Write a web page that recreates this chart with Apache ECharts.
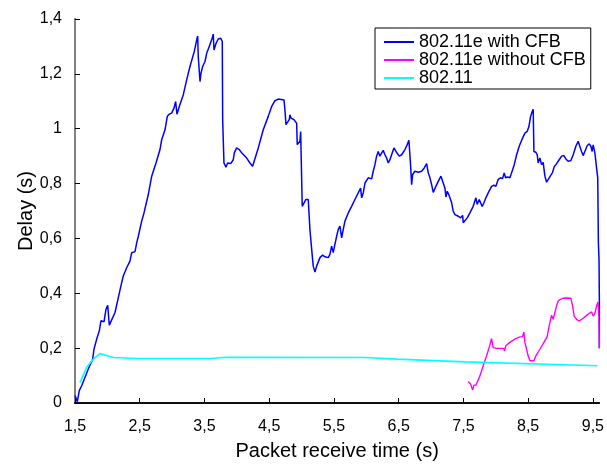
<!DOCTYPE html>
<html>
<head>
<meta charset="utf-8">
<script src="https://cdn.jsdelivr.net/npm/echarts@6/dist/echarts.min.js"></script>
<style>
  html, body { margin: 0; padding: 0; background: #fff; }
  #chart { width: 607px; height: 466px; }
</style>
</head>
<body>
<div id="chart"></div>
<script>
// Packet receive time (s) and measured delay (s) for each scheme.
const seriesNames = ['802.11e with CFB', '802.11e without CFB', '802.11'];

const cfbTime = [1.5, 1.536, 1.566, 1.603, 1.628, 1.654, 1.705, 1.773, 1.793, 1.835, 1.875, 1.902, 1.948, 1.979, 2.005, 2.03, 2.051, 2.118, 2.169, 2.221, 2.246, 2.272, 2.298, 2.349, 2.376, 2.427, 2.453, 2.478, 2.53, 2.566, 2.632, 2.685, 2.751, 2.813, 2.839, 2.89, 2.926, 2.956, 2.993, 3.029, 3.055, 3.075, 3.111, 3.173, 3.225, 3.276, 3.342, 3.38, 3.395, 3.404, 3.431, 3.446, 3.472, 3.508, 3.534, 3.574, 3.611, 3.636, 3.647, 3.678, 3.713, 3.75, 3.775, 3.781, 3.801, 3.832, 3.858, 3.905, 3.945, 3.961, 3.997, 4.037, 4.074, 4.152, 4.203, 4.244, 4.269, 4.331, 4.408, 4.485, 4.538, 4.589, 4.64, 4.728, 4.743, 4.759, 4.785, 4.81, 4.82, 4.836, 4.882, 4.924, 4.933, 4.955, 4.975, 4.986, 4.998, 5.01, 5.037, 5.068, 5.103, 5.129, 5.156, 5.18, 5.207, 5.233, 5.284, 5.325, 5.361, 5.387, 5.412, 5.438, 5.464, 5.489, 5.515, 5.542, 5.567, 5.593, 5.619, 5.644, 5.67, 5.721, 5.773, 5.824, 5.875, 5.912, 5.928, 5.953, 5.979, 6.03, 6.082, 6.107, 6.133, 6.159, 6.184, 6.21, 6.237, 6.261, 6.288, 6.314, 6.339, 6.365, 6.391, 6.427, 6.458, 6.509, 6.546, 6.597, 6.632, 6.658, 6.685, 6.7, 6.716, 6.751, 6.802, 6.854, 6.895, 6.932, 6.957, 6.983, 7.009, 7.034, 7.075, 7.111, 7.153, 7.179, 7.214, 7.23, 7.25, 7.281, 7.318, 7.343, 7.369, 7.395, 7.42, 7.457, 7.488, 7.497, 7.523, 7.559, 7.6, 7.651, 7.693, 7.713, 7.744, 7.79, 7.817, 7.847, 7.883, 7.935, 7.971, 8.002, 8.037, 8.074, 8.105, 8.13, 8.151, 8.182, 8.218, 8.244, 8.285, 8.322, 8.362, 8.403, 8.45, 8.485, 8.512, 8.538, 8.563, 8.578, 8.589, 8.62, 8.64, 8.655, 8.681, 8.708, 8.732, 8.759, 8.785, 8.825, 8.878, 8.902, 8.929, 8.949, 8.98, 9.017, 9.052, 9.083, 9.118, 9.16, 9.196, 9.237, 9.273, 9.299, 9.325, 9.35, 9.376, 9.412, 9.443, 9.469, 9.489, 9.505, 9.531, 9.557, 9.575, 9.585, 9.595, 9.6, 9.6];
const cfbDelay = [0.027, 0.005, 0.045, 0.063, 0.069, 0.093, 0.124, 0.16, 0.196, 0.233, 0.263, 0.3, 0.296, 0.342, 0.356, 0.284, 0.279, 0.33, 0.384, 0.439, 0.463, 0.46, 0.493, 0.517, 0.548, 0.552, 0.584, 0.608, 0.663, 0.693, 0.76, 0.827, 0.875, 0.924, 0.96, 0.996, 1.045, 1.053, 1.057, 1.075, 1.099, 1.053, 1.081, 1.124, 1.178, 1.227, 1.281, 1.324, 1.338, 1.263, 1.172, 1.202, 1.227, 1.245, 1.275, 1.3, 1.324, 1.345, 1.287, 1.311, 1.327, 1.33, 1.318, 1.033, 0.875, 0.86, 0.875, 0.873, 0.887, 0.912, 0.93, 0.924, 0.912, 0.893, 0.875, 0.863, 0.865, 0.93, 0.996, 1.045, 1.081, 1.102, 1.108, 1.105, 1.069, 1.015, 1.011, 1.033, 1.051, 1.039, 1.033, 1.02, 0.942, 0.936, 0.954, 0.99, 0.99, 0.717, 0.724, 0.742, 0.742, 0.633, 0.56, 0.499, 0.477, 0.499, 0.53, 0.539, 0.533, 0.538, 0.53, 0.542, 0.572, 0.548, 0.578, 0.608, 0.633, 0.645, 0.602, 0.633, 0.663, 0.693, 0.717, 0.742, 0.766, 0.784, 0.748, 0.766, 0.802, 0.821, 0.817, 0.845, 0.869, 0.9, 0.917, 0.9, 0.912, 0.921, 0.905, 0.893, 0.875, 0.887, 0.905, 0.93, 0.917, 0.9, 0.905, 0.924, 0.942, 0.958, 0.863, 0.796, 0.833, 0.845, 0.841, 0.845, 0.857, 0.873, 0.839, 0.821, 0.796, 0.768, 0.79, 0.808, 0.827, 0.821, 0.784, 0.751, 0.772, 0.756, 0.73, 0.699, 0.687, 0.693, 0.681, 0.675, 0.684, 0.657, 0.663, 0.675, 0.693, 0.717, 0.748, 0.724, 0.742, 0.717, 0.73, 0.748, 0.766, 0.79, 0.794, 0.79, 0.815, 0.821, 0.818, 0.839, 0.821, 0.824, 0.821, 0.839, 0.869, 0.905, 0.936, 0.96, 0.984, 0.99, 1.008, 1.045, 1.063, 1.071, 0.917, 0.914, 0.905, 0.875, 0.893, 0.869, 0.877, 0.827, 0.805, 0.821, 0.841, 0.861, 0.869, 0.863, 0.887, 0.9, 0.902, 0.89, 0.881, 0.884, 0.905, 0.936, 0.954, 0.948, 0.917, 0.902, 0.917, 0.938, 0.945, 0.936, 0.917, 0.941, 0.912, 0.857, 0.821, 0.584, 0.52, 0.38, 0.2];

const noCfbTime = [7.574, 7.611, 7.642, 7.662, 7.693, 7.755, 7.806, 7.858, 7.909, 7.935, 7.96, 8.013, 8.064, 8.125, 8.133, 8.156, 8.218, 8.295, 8.373, 8.414, 8.434, 8.45, 8.476, 8.5, 8.527, 8.589, 8.62, 8.681, 8.743, 8.794, 8.825, 8.862, 8.887, 8.913, 8.939, 8.964, 9.001, 9.041, 9.103, 9.16, 9.186, 9.211, 9.248, 9.288, 9.35, 9.427, 9.48, 9.505, 9.531, 9.557, 9.578, 9.593, 9.6];
const noCfbDelay = [0.078, 0.069, 0.047, 0.065, 0.065, 0.099, 0.136, 0.172, 0.211, 0.235, 0.202, 0.199, 0.199, 0.199, 0.19, 0.209, 0.221, 0.233, 0.241, 0.242, 0.259, 0.221, 0.196, 0.172, 0.154, 0.154, 0.172, 0.196, 0.221, 0.242, 0.281, 0.32, 0.305, 0.33, 0.354, 0.372, 0.378, 0.382, 0.383, 0.382, 0.354, 0.317, 0.305, 0.299, 0.309, 0.324, 0.332, 0.317, 0.327, 0.354, 0.368, 0.317, 0.2];

const legacyTime = [1.577, 1.681, 1.783, 1.886, 1.963, 2.092, 2.453, 3.585, 3.843, 5.979, 6.468, 7.523, 9.572];
const legacyDelay = [0.075, 0.13, 0.16, 0.18, 0.175, 0.166, 0.162, 0.162, 0.167, 0.166, 0.16, 0.15, 0.136];

// Axis ranges: the time axis begins at 1.5 s with a tick every second.
const timeStart = 1.5;
const timeEnd = 9.6;
const timeStep = 1;
const delayMin = 0;
const delayMax = 1.4;
const delayStep = 0.2;

const colors = ['#0000ff', '#ff00ff', '#00ffff'];
const FONT = '"Liberation Sans", Arial, sans-serif';

// Time values are placed relative to timeStart so ticks fall on 1.5, 2.5, ...
function pairs(ts, ds) {
  return ts.map((t, i) => [+(t - timeStart).toFixed(4), ds[i]]);
}
function decimalComma(v) {
  return String(+v.toFixed(1)).replace('.', ',');
}

const chart = echarts.init(document.getElementById('chart'), null, { renderer: 'canvas' });

const lineSeries = (name, data, color, width) => ({
  name, type: 'line', data, symbol: 'none', smooth: false,
  lineStyle: { color, width }, itemStyle: { color },
  animation: false, clip: true
});

chart.setOption({
  backgroundColor: '#ffffff',
  animation: false,
  grid: { left: 75, top: 19, right: 7, bottom: 62, containLabel: false },
  legend: {
    orient: 'vertical',
    left: 375, top: 28,
    data: seriesNames,
    backgroundColor: '#ffffff',
    borderColor: '#000000',
    borderWidth: 1,
    padding: [5, 5, 2, 8],
    itemGap: 0,
    itemWidth: 30,
    itemHeight: 16,
    // line-only key: the marker dot is made invisible
    itemStyle: { opacity: 0 },
    lineStyle: { width: 2 },
    textStyle: { fontFamily: FONT, fontSize: 18, color: '#000', lineHeight: 16 }
  },
  xAxis: [{
    type: 'value',
    min: 0, max: +(timeEnd - timeStart).toFixed(4), interval: timeStep,
    name: 'Packet receive time (s)',
    nameLocation: 'middle', nameGap: 38, nameMoveOverlap: false,
    nameTextStyle: { fontFamily: FONT, fontSize: 20, color: '#000' },
    axisLine: { show: true, lineStyle: { color: '#000', width: 1.5 } },
    axisTick: { show: true, inside: true, length: 5, lineStyle: { color: '#000' } },
    axisLabel: {
      fontFamily: FONT, fontSize: 16, color: '#000', margin: 16,
      showMaxLabel: false,
      formatter: v => Math.abs(v - Math.round(v)) < 1e-6 ? decimalComma(v + timeStart) : ''
    },
    splitLine: { show: false }
  }, {
    type: 'value', position: 'top',
    min: 0, max: +(timeEnd - timeStart).toFixed(4), interval: timeStep,
    axisLine: { show: true, lineStyle: { color: '#000', width: 1.5 } },
    axisTick: { show: false }, axisLabel: { show: false }, splitLine: { show: false }
  }],
  yAxis: [{
    type: 'value',
    min: delayMin, max: delayMax, interval: delayStep,
    name: 'Delay (s)',
    nameLocation: 'middle', nameGap: 39, nameMoveOverlap: false,
    nameTextStyle: { fontFamily: FONT, fontSize: 20, color: '#000' },
    axisLine: { show: true, lineStyle: { color: '#000', width: 1.5 } },
    axisTick: { show: true, inside: true, length: 5, lineStyle: { color: '#000' } },
    axisLabel: { fontFamily: FONT, fontSize: 16, color: '#000', margin: 13, formatter: decimalComma },
    splitLine: { show: false }
  }, {
    type: 'value', position: 'right',
    min: delayMin, max: delayMax, interval: delayStep,
    axisLine: { show: true, lineStyle: { color: '#808080', width: 2 } },
    axisTick: { show: false }, axisLabel: { show: false }, splitLine: { show: false }
  }],
  series: [
    lineSeries(seriesNames[0], pairs(cfbTime, cfbDelay), colors[0], 1.5),
    lineSeries(seriesNames[1], pairs(noCfbTime, noCfbDelay), colors[1], 1.4),
    lineSeries(seriesNames[2], pairs(legacyTime, legacyDelay), colors[2], 1.6)
  ]
});
</script>
</body>
</html>
